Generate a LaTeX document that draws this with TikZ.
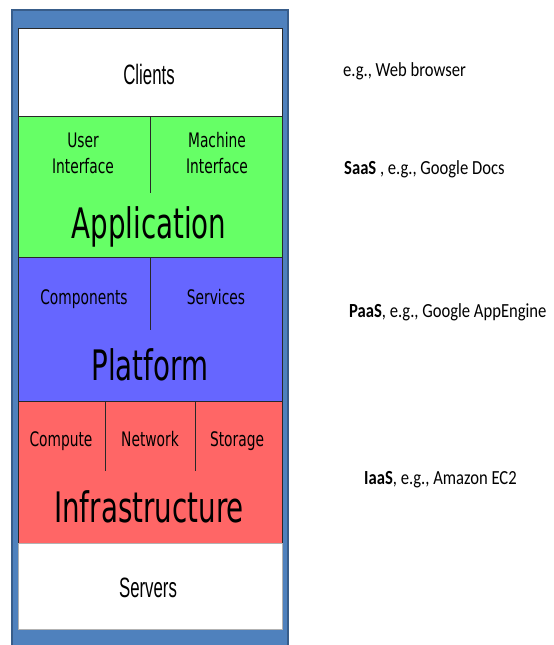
\documentclass[tikz,border=0pt]{standalone}
\usepackage{fontspec}
\newfontfamily\dvsfont[FakeStretch=0.66]{DejaVu Sans}
\newfontfamily\dvssmall[FakeStretch=0.69]{DejaVu Sans}
\newfontfamily\libfont[FakeStretch=0.6]{Liberation Sans}
\newfontfamily\calfont[FakeStretch=0.83]{Carlito}
\definecolor{framebl}{RGB}{79,129,189}
\definecolor{frameedge}{RGB}{56,93,138}
\definecolor{appgreen}{RGB}{102,255,102}
\definecolor{platblue}{RGB}{102,102,255}
\definecolor{infred}{RGB}{255,102,102}
\definecolor{lineg}{RGB}{40,40,40}
\begin{document}
\begin{tikzpicture}[x=1pt,y=-1pt,
  layer/.style={draw=lineg,line width=0.8pt,minimum width=264pt,inner sep=0pt,outer sep=0pt},
  divider/.style={draw=lineg,line width=0.8pt},
  bigtxt/.style={anchor=base,inner sep=0pt,font=\dvsfont\fontsize{42}{42}\selectfont},
  smalltxt/.style={anchor=base,inner sep=0pt,font=\dvssmall\fontsize{20}{26}\selectfont,align=center},
  endtxt/.style={anchor=base,inner sep=0pt,font=\libfont\fontsize{28}{28}\selectfont},
  notetxt/.style={anchor=base west,inner sep=0pt,font=\calfont\fontsize{20}{20}\selectfont}]
\useasboundingbox (0,0) rectangle (554,645);
\fill[white] (0,0) rectangle (554,645);
% outer frame
\node (frame) [draw=frameedge,fill=framebl,line width=1.5pt,minimum width=276pt,minimum height=640pt,inner sep=0pt] at (150,330) {};
% layers
\node (clients) [layer,fill=white,minimum height=88pt] at (150,72) {};
\node (app) [layer,fill=appgreen,minimum height=141pt] at (150,186.5) {};
\node (plat) [layer,fill=platblue,minimum height=144pt] at (150,329) {};
\node (infra) [layer,fill=infred,minimum height=142pt] at (150,472) {};
\node (servers) [layer,fill=white,minimum height=86pt,draw=gray!60] at (150,586) {};
% dividers
\coordinate (d1b) at (150,193);
\coordinate (d2b) at (150,330);
\coordinate (d3b) at (105,471);
\coordinate (d4b) at (195,471);
\draw[divider] (app.north) -- (d1b);
\draw[divider] (plat.north) -- (d2b);
\draw[divider] (infra.north -| d3b) -- (d3b);
\draw[divider] (infra.north -| d4b) -- (d4b);
% texts
\node (tcl) [endtxt] at (149,84) {Clients};
\node (tui) [smalltxt] at (83,173) {User\\Interface};
\node (tmi) [smalltxt] at (217,173) {Machine\\Interface};
\node (tapp) [bigtxt] at (149,238) {Application};
\node (tcomp) [smalltxt] at (84,304) {Components};
\node (tserv) [smalltxt] at (216,304) {Services};
\node (tplat) [bigtxt] at (150,380) {Platform};
\node (tcmp) [smalltxt] at (61,446) {Compute};
\node (tnet) [smalltxt] at (150,446) {Network};
\node (tsto) [smalltxt] at (237,446) {Storage};
\node (tinf) [bigtxt] at (149,522) {Infrastructure};
\node (tsrv) [endtxt] at (148,597) {Servers};
% notes
\node (n1) [notetxt] at (343,76) {e.g., Web browser};
\node (n2) [notetxt] at (344,174) {\textbf{SaaS} , e.g., Google Docs};
\node (n3) [notetxt] at (349,317) {\textbf{PaaS}, e.g., Google AppEngine};
\node (n4) [notetxt] at (364,484) {\textbf{IaaS}, e.g., Amazon EC2};
\end{tikzpicture}
\end{document}
